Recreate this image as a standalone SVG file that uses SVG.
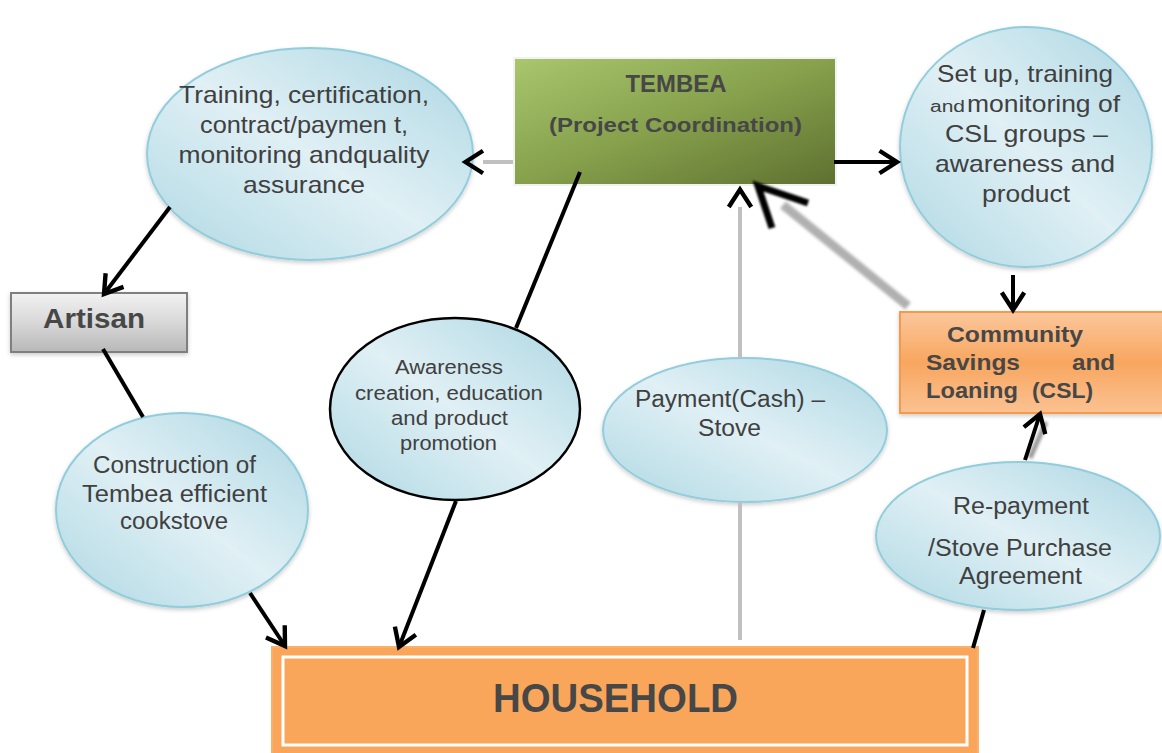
<svg xmlns="http://www.w3.org/2000/svg" width="1162" height="753" viewBox="0 0 1162 753">
<defs>
<linearGradient id="gBlue" x1="0" y1="1" x2="1" y2="0">
<stop offset="0" stop-color="#afd8e3"/>
<stop offset="0.5" stop-color="#e0f0f5"/>
<stop offset="1" stop-color="#acd6e2"/>
</linearGradient>
<linearGradient id="gGreen" x1="0" y1="0" x2="1" y2="1">
<stop offset="0" stop-color="#a9c76e"/>
<stop offset="0.5" stop-color="#86a04c"/>
<stop offset="1" stop-color="#5e7030"/>
</linearGradient>
<linearGradient id="gGrey" x1="0" y1="0" x2="0" y2="1">
<stop offset="0" stop-color="#f2f2f2"/>
<stop offset="0.5" stop-color="#d8d8d8"/>
<stop offset="1" stop-color="#b8b8b8"/>
</linearGradient>
<linearGradient id="gOrange" x1="0" y1="0" x2="0" y2="1">
<stop offset="0" stop-color="#fbc79c"/>
<stop offset="0.5" stop-color="#f8a65f"/>
<stop offset="1" stop-color="#fbc292"/>
</linearGradient>
<filter id="shadow" x="-10%" y="-10%" width="120%" height="125%">
<feDropShadow dx="0" dy="2" stdDeviation="2" flood-color="#000" flood-opacity="0.2"/>
</filter>
<filter id="blur" x="-20%" y="-20%" width="140%" height="140%">
<feGaussianBlur stdDeviation="1.8"/>
</filter>
<filter id="blurSoft" x="-20%" y="-20%" width="140%" height="140%">
<feGaussianBlur stdDeviation="0.8"/>
</filter>
<marker id="arr" markerUnits="userSpaceOnUse" markerWidth="30" markerHeight="30" viewBox="-16 -12 20 24" refX="0" refY="0" orient="auto">
<path d="M-14,-9 L0,0 L-14,9" fill="none" stroke="#000" stroke-width="3.5" stroke-linejoin="miter"/>
</marker>
<marker id="arrG" markerUnits="userSpaceOnUse" markerWidth="30" markerHeight="30" viewBox="-16 -12 20 24" refX="-14" refY="0" orient="auto">
<path d="M-14,-9 L0,0 L-14,9" fill="none" stroke="#000" stroke-width="3.5" stroke-linejoin="miter"/>
</marker>
</defs>
<style>
.ell{fill:url(#gBlue);stroke:#92cddc;stroke-width:2;filter:url(#shadow)}
.t{font-family:"Liberation Sans",Arial,sans-serif;fill:#404040;text-anchor:middle}
.b{font-family:"Liberation Sans",Arial,sans-serif;fill:#474747;font-weight:bold}
.ln{stroke:#000;stroke-width:4;fill:none}
.gl{stroke:#c0c0c0;stroke-width:4;fill:none}
</style>
<rect width="1162" height="753" fill="#ffffff"/>

<g id="tembea">
<rect x="514" y="58" width="322" height="127" fill="url(#gGreen)" stroke="#f2f2f2" stroke-width="2"/>
<text class="b" x="676" y="92" font-size="23" text-anchor="middle" textLength="101" lengthAdjust="spacingAndGlyphs">TEMBEA</text>
<text class="b" x="675.5" y="132" font-size="21" text-anchor="middle" textLength="253" lengthAdjust="spacingAndGlyphs">(Project Coordination)</text>
</g>

<g id="training">
<ellipse class="ell" cx="310" cy="154" rx="163" ry="106"/>
<text class="t" x="304" y="103" font-size="24" textLength="250" lengthAdjust="spacingAndGlyphs">Training, certification,</text>
<text class="t" x="304" y="133" font-size="24" textLength="208" lengthAdjust="spacingAndGlyphs">contract/paymen t,</text>
<text class="t" x="304" y="163" font-size="24" textLength="251" lengthAdjust="spacingAndGlyphs">monitoring andquality</text>
<text class="t" x="304" y="193" font-size="24" textLength="122" lengthAdjust="spacingAndGlyphs">assurance</text>
</g>

<g id="setup">
<ellipse class="ell" cx="1026" cy="147" rx="126" ry="120"/>
<text class="t" x="1025" y="82" font-size="24" textLength="176" lengthAdjust="spacingAndGlyphs">Set up, training</text>
<text class="t" y="112" style="text-anchor:start"><tspan x="930" font-size="16" textLength="35" lengthAdjust="spacingAndGlyphs">and</tspan><tspan x="967" font-size="24" textLength="153" lengthAdjust="spacingAndGlyphs">monitoring of</tspan></text>
<text class="t" x="1026.5" y="142" font-size="24" textLength="163" lengthAdjust="spacingAndGlyphs">CSL groups –</text>
<text class="t" x="1025" y="172" font-size="24" textLength="180" lengthAdjust="spacingAndGlyphs">awareness and</text>
<text class="t" x="1026" y="202" font-size="24" textLength="88" lengthAdjust="spacingAndGlyphs">product</text>
</g>

<g id="artisan">
<rect x="11" y="293" width="176" height="59" fill="url(#gGrey)" stroke="#7f7f7f" stroke-width="2" filter="url(#shadow)"/>
<text class="b" x="94" y="328" font-size="27" text-anchor="middle" textLength="102" lengthAdjust="spacingAndGlyphs">Artisan</text>
</g>

<g id="csl">
<rect x="900" y="312" width="263" height="101" fill="url(#gOrange)" stroke="#f59a4c" stroke-width="2" filter="url(#shadow)"/>
<text class="b" x="1015" y="342" font-size="22" text-anchor="middle" textLength="136" lengthAdjust="spacingAndGlyphs">Community</text>
<text class="b" y="370" font-size="22"><tspan x="926" textLength="94" lengthAdjust="spacingAndGlyphs">Savings</tspan><tspan x="1072" textLength="43" lengthAdjust="spacingAndGlyphs">and</tspan></text>
<text class="b" y="398" font-size="22"><tspan x="926" textLength="92" lengthAdjust="spacingAndGlyphs">Loaning</tspan><tspan x="1032" textLength="61" lengthAdjust="spacingAndGlyphs">(CSL)</tspan></text>
</g>

<g id="construction">
<ellipse class="ell" cx="182" cy="510" rx="126" ry="97"/>
<text class="t" x="174.5" y="473" font-size="23" textLength="163" lengthAdjust="spacingAndGlyphs">Construction of</text>
<text class="t" x="174.5" y="502" font-size="23" textLength="185" lengthAdjust="spacingAndGlyphs">Tembea efficient</text>
<text class="t" x="174" y="529" font-size="23" textLength="108" lengthAdjust="spacingAndGlyphs">cookstove</text>
</g>

<g id="awareness">
<ellipse cx="455" cy="409" rx="125" ry="91" fill="url(#gBlue)" stroke="#000" stroke-width="2.5"/>
<text class="t" x="449" y="374" font-size="19.5" textLength="108" lengthAdjust="spacingAndGlyphs">Awareness</text>
<text class="t" x="449" y="400" font-size="19.5" textLength="188" lengthAdjust="spacingAndGlyphs">creation, education</text>
<text class="t" x="449.5" y="425" font-size="19.5" textLength="117" lengthAdjust="spacingAndGlyphs">and product</text>
<text class="t" x="448.5" y="450" font-size="19.5" textLength="97" lengthAdjust="spacingAndGlyphs">promotion</text>
</g>

<g id="payment">
<ellipse class="ell" cx="745" cy="430" rx="142" ry="72"/>
<text class="t" x="730" y="407" font-size="23" textLength="190" lengthAdjust="spacingAndGlyphs">Payment(Cash) –</text>
<text class="t" x="729.5" y="436" font-size="23" textLength="63" lengthAdjust="spacingAndGlyphs">Stove</text>
</g>

<g id="repayment">
<ellipse class="ell" cx="1018" cy="536" rx="142" ry="74"/>
<text class="t" x="1021" y="514" font-size="23" textLength="136" lengthAdjust="spacingAndGlyphs">Re-payment</text>
<text class="t" x="1020" y="556" font-size="23" textLength="184" lengthAdjust="spacingAndGlyphs">/Stove Purchase</text>
<text class="t" x="1020.5" y="584" font-size="23" textLength="123" lengthAdjust="spacingAndGlyphs">Agreement</text>
</g>

<g id="household">
<rect x="272" y="647" width="706" height="110" fill="#f9a65a" stroke="#fbb06a" stroke-width="2"/>
<rect x="283" y="657" width="684" height="88" fill="none" stroke="#ffffff" stroke-width="3"/>
<text class="b" x="615.5" y="712" font-size="40" text-anchor="middle" fill="#4d4d4d" textLength="245" lengthAdjust="spacingAndGlyphs">HOUSEHOLD</text>
</g>

<g id="connectors">
<line class="gl" x1="513" y1="162" x2="483" y2="162" marker-end="url(#arrG)"/>
<line class="ln" x1="834" y1="162" x2="897" y2="162" marker-end="url(#arr)"/>
<line class="ln" x1="170" y1="207" x2="104" y2="294" marker-end="url(#arr)"/>
<line class="ln" x1="103" y1="349" x2="143" y2="417"/>
<line class="ln" x1="250" y1="593" x2="285" y2="646" marker-end="url(#arr)"/>
<line class="ln" x1="580" y1="172" x2="516" y2="328"/>
<line class="ln" x1="456" y1="501" x2="399" y2="647" marker-end="url(#arr)"/>
<line class="gl" x1="740" y1="640" x2="740" y2="502"/>
<line class="gl" x1="740" y1="358" x2="740" y2="207" marker-end="url(#arrG)"/>
<line x1="908" y1="306" x2="783" y2="205" stroke="#b0b0b0" stroke-width="9" filter="url(#blur)"/>
<path d="M772,228 L758,186 L808,203" fill="none" stroke="#000" stroke-width="7" stroke-linejoin="miter" filter="url(#blurSoft)"/>
<line class="ln" x1="1013" y1="275" x2="1013" y2="310" marker-end="url(#arr)"/>
<line class="ln" x1="973" y1="648" x2="984" y2="610"/>
<line x1="1030" y1="458" x2="1046" y2="422" stroke="#9a9a9a" stroke-width="5" filter="url(#blur)"/>
<line class="ln" x1="1025" y1="460" x2="1040" y2="414" marker-end="url(#arr)"/>
</g>
</svg>
